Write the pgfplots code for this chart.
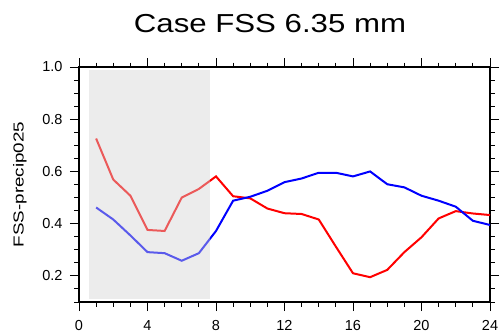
\documentclass[border=0pt]{standalone}
\usepackage{pgfplots}
\pgfplotsset{compat=1.18}
\usepackage{fontspec}
\setmainfont{Liberation Sans}
\newfontfamily\titlefont[FakeStretch=1.2]{Liberation Sans}
\newfontfamily\labelfont[FakeStretch=1.3]{Liberation Sans}
\definecolor{shade}{RGB}{210,210,210}
\begin{document}
\begin{tikzpicture}
\path[use as bounding box] (-79bp,-31bp) rectangle (421bp,302bp);
\begin{axis}[
  at={(0,0)}, anchor=south west,
  width=411bp, height=235bp, scale only axis,
  xmin=0, xmax=24, ymin=0.1, ymax=1.0,
  xtick={0,4,...,24}, minor x tick num=3,
  ytick={0.2,0.4,0.6,0.8,1.0},
  minor ytick={0.1,0.15,0.25,0.3,0.35,0.45,0.5,0.55,0.65,0.7,0.75,0.85,0.9,0.95},
  yticklabel style={/pgf/number format/fixed, /pgf/number format/fixed zerofill, /pgf/number format/precision=1, xshift=-4bp},
  xticklabel style={yshift=-6bp},
  /pgf/number format/assume math mode=true,
  tick label style={font=\fontsize{14.5bp}{17bp}\selectfont},
  tick align=outside,
  major tick length=9bp, minor tick length=4.5bp,
  every tick/.style={black, line width=1pt},
  axis line style={line width=1.2pt},
  xtick pos=both, ytick pos=both,
  xticklabel pos=lower, yticklabel pos=left,
]
\addplot[red, line width=2bp] coordinates {
(1,0.726) (2,0.569) (3,0.507) (4,0.376) (5,0.372) (6,0.500) (7,0.533) (8,0.581)
(9,0.505) (10,0.497) (11,0.458) (12,0.440) (13,0.437) (14,0.416) (15,0.312) (16,0.210)
(17,0.195) (18,0.223) (19,0.291) (20,0.348) (21,0.420) (22,0.448) (23,0.439) (24,0.433)};
\addplot[blue, line width=2bp] coordinates {
(1,0.462) (2,0.416) (3,0.355) (4,0.291) (5,0.287) (6,0.258) (7,0.287) (8,0.372)
(9,0.488) (10,0.503) (11,0.526) (12,0.559) (13,0.573) (14,0.595) (15,0.595) (16,0.581)
(17,0.600) (18,0.551) (19,0.539) (20,0.507) (21,0.488) (22,0.465) (23,0.411) (24,0.395)};
\addplot[draw=none, fill=shade, fill opacity=0.43] coordinates {
(0.58,0.11) (7.63,0.11) (7.63,0.99) (0.58,0.99)} -- cycle;
\end{axis}
\node[anchor=base, font=\titlefont\fontsize{26bp}{30bp}\selectfont] at (191bp,269bp) {Case FSS 6.35 mm};
\node[rotate=90, font=\labelfont\fontsize{14.5bp}{17bp}\selectfont] at (-59bp,117.5bp) {FSS-precip025};
\end{tikzpicture}
\end{document}
